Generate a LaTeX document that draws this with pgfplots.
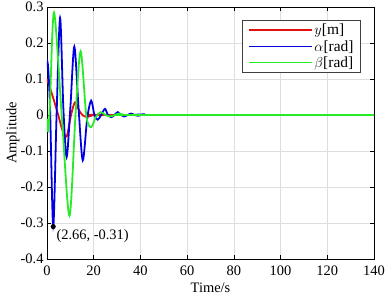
\documentclass[border=0pt]{standalone}
\usepackage{fontspec}
\setmainfont{Liberation Serif}
\usepackage{pgfplots}
\pgfplotsset{compat=1.18}
\definecolor{cred}{RGB}{230,15,15}
\definecolor{cblue}{RGB}{0,0,225}
\definecolor{cgreen}{RGB}{40,235,40}
\begin{document}
\begin{tikzpicture}
\begin{axis}[
  scale only axis,
  width=327bp, height=252bp,
  xmin=0, xmax=140, ymin=-0.4, ymax=0.3,
  xtick={0,20,...,140},
  xticklabels={0,20,40,60,80,100,120,140},
  ytick={-0.4,-0.3,-0.2,-0.1,0,0.1,0.2,0.3},
  yticklabels={-0.4,-0.3,-0.2,-0.1,0,0.1,0.2,0.3},
  tick align=inside,
  tick pos=both,
  major tick length=4bp,
  grid=major,
  major grid style={draw=black!13, line width=0.6pt},
  axis line style={line width=0.8pt},
  every tick/.style={black, line width=0.6pt},
  tick label style={font=\fontsize{14.5}{17}\selectfont},
  xticklabel style={yshift=-3bp},
  label style={font=\fontsize{14.5}{17}\selectfont},
  xlabel={Time/s},
  ylabel={Amplitude},
  xlabel style={at={(axis description cs:0.5,-0.115)}, anchor=center},
  ylabel style={at={(axis description cs:-0.104,0.5)}, anchor=center},
  legend style={at={(0.96,0.948)}, anchor=north east, draw=black!75, line width=0.8pt,
    font=\fontsize{15.5}{17.7}\selectfont, inner xsep=5bp, inner ysep=2.5bp,
    row sep=1.5bp, nodes={inner xsep=2bp, inner ysep=1.2bp}},
  legend cell align=left,
  legend image code/.code={\draw[#1, line width=1.8pt] (0bp,0bp) -- (63bp,0bp);},
]
\addplot[cred, line width=1.8pt, smooth] coordinates {
(0,0.1) (1.3,0.075) (3,0.04) (4.8,0) (6.6,-0.042) (8.4,-0.06) (10.3,0)
(12,0.035) (13.8,0.012) (15.5,-0.002) (17.3,-0.005) (19.5,-0.001) (22,0.001) (25,0) (140,0)};
\addlegendentry{$y$[m]}
\addplot[cblue, line width=1.8pt, smooth] coordinates {
(0,0.13) (0.4,0.14) (1.3,0.02) (2.66,-0.31) (4.1,0) (5.6,0.27) (7.0,0.02) (8.4,-0.117)
(10.0,0.02) (11.7,0.19) (13.5,0.02) (15.3,-0.126) (17.2,-0.01) (18.9,0.04) (20.3,0)
(21.7,-0.013) (23.2,0) (24.8,0.017) (26.1,0) (27.5,-0.006) (28.9,0) (30.3,0.008)
(31.7,0) (33,-0.004) (34.5,0) (36,0.004) (37.5,0) (39,-0.002) (40.5,0) (42,0.002)
(45,0) (140,0)};
\addlegendentry{$\alpha$[rad]}
\addplot[cgreen, line width=1.8pt, smooth] coordinates {
(0,-0.01) (0.4,-0.045) (1.2,0.02) (3.0,0.285) (6.3,0) (9.6,-0.28) (12.2,0)
(14.4,0.177) (16.8,0) (18.8,-0.034) (21,-0.005) (23,0.008) (25,0) (27,-0.004)
(29,0) (31,0.004) (33,0) (36,0) (140,0)};
\addlegendentry{$\beta$[rad]}
\addplot[only marks, mark=*, mark size=2.3pt, black, forget plot] coordinates {(2.66,-0.31)};
\node[anchor=north west, font=\fontsize{14.5}{17}\selectfont, inner sep=0pt] at (axis cs:4.0,-0.317) {(2.66, -0.31)};
\end{axis}
\pgfresetboundingbox
\path ([xshift=-47bp,yshift=-40bp]current axis.south west) rectangle ([xshift=13bp,yshift=7bp]current axis.north east);
\end{tikzpicture}
\end{document}
